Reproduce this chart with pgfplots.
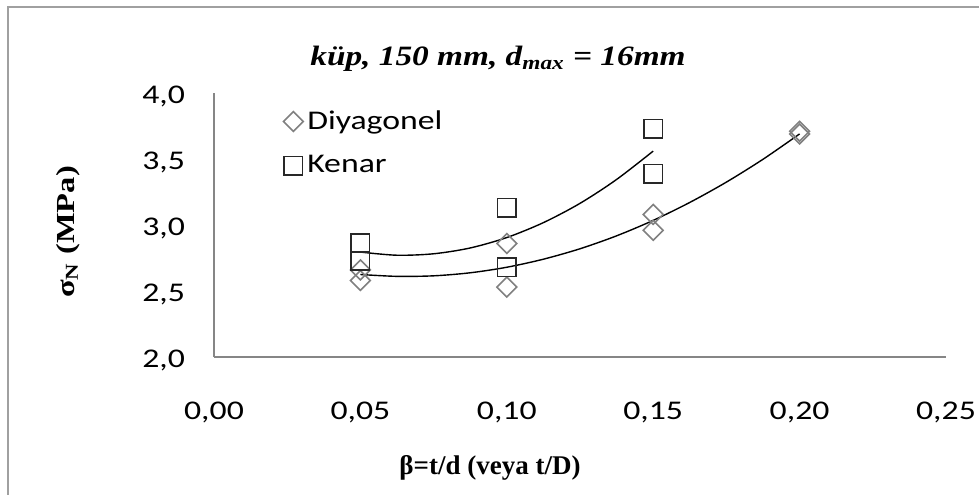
\documentclass[border=0pt]{standalone}
\usepackage{fontspec}
\setmainfont{Liberation Serif}
\newfontfamily\stretchserif{Liberation Serif}[FakeStretch=1.25]
\newfontfamily\titlefont{Liberation Serif}[FakeStretch=1.19]
\newfontfamily\tickfont{Carlito}[FakeStretch=1.25]
\usepackage{pgfplots}
\pgfplotsset{compat=1.18}
\definecolor{axgray}{RGB}{134,134,134}
\definecolor{diagray}{RGB}{128,128,128}
\definecolor{sqdark}{RGB}{40,40,40}
\definecolor{framegray}{RGB}{160,160,160}
\begin{document}
\begin{tikzpicture}
\useasboundingbox (-107pt,-68.5pt) rectangle (382.5pt,178.5pt);
\begin{axis}[
  at={(0pt,0pt)}, anchor=origin,
  scale only axis, width=366pt, height=132pt,
  xmin=0, xmax=0.25, ymin=2, ymax=4,
  axis lines*=left,
  axis line style={draw=axgray, line width=0.7pt},
  major tick length=0pt,
  xtick={0,0.05,0.1,0.15,0.2,0.25},
  xticklabels={{0,00},{0,05},{0,10},{0,15},{0,20},{0,25}},
  ytick={2,2.5,3,3.5,4},
  yticklabels={{2,0},{2,5},{3,0},{3,5},{4,0}},
  tick label style={font=\tickfont\fontsize{13.5}{16}\selectfont, text=black},
  xticklabel style={yshift=-19pt},
  yticklabel style={xshift=-11pt, yshift=-1.5pt},
  clip=false,
  legend style={draw=none, fill=none, at={(axis cs:0.0236,3.90)}, anchor=north west,
    font=\tickfont\fontsize{13.5}{16}\selectfont, row sep=7.5pt, inner sep=0pt,
    /tikz/every even column/.append style={column sep=8pt}},
  legend cell align=left,
  legend image code/.code={\draw[#1] plot coordinates {(3pt,0pt)};},
]
\addplot[only marks, mark=square, mark size=3.5pt, mark options={rotate=45, draw=diagray, line width=0.8pt}]
  coordinates {(0.05,2.58) (0.05,2.66) (0.10,2.53) (0.10,2.86) (0.15,2.96) (0.15,3.08) (0.20,3.69) (0.20,3.71)};
\addlegendentry{Diyagonel}
\addplot[only marks, mark=square, mark size=4.6pt, mark options={draw=sqdark, line width=0.8pt}]
  coordinates {(0.05,2.73) (0.05,2.86) (0.10,2.68) (0.10,3.13) (0.15,3.39) (0.15,3.73)};
\addlegendentry{Kenar}
\addplot[forget plot, smooth, black, line width=0.7pt]
  coordinates {(0.05,2.625) (0.0625,2.611) (0.075,2.615) (0.0875,2.638) (0.10,2.680) (0.1125,2.741) (0.125,2.820) (0.1375,2.918) (0.15,3.035) (0.1625,3.171) (0.175,3.325) (0.1875,3.498) (0.20,3.690)};
\addplot[forget plot, smooth, black, line width=0.7pt]
  coordinates {(0.05,2.795) (0.0625,2.771) (0.075,2.782) (0.0875,2.826) (0.10,2.905) (0.1125,3.018) (0.125,3.164) (0.1375,3.345) (0.15,3.560)};
\end{axis}
\draw[framegray, line width=1pt] (-103pt,-80pt) -- (-103pt,175pt) -- (400pt,175pt);
\node[anchor=base, font=\titlefont\fontsize{14}{16}\selectfont\bfseries\itshape] at (142pt,146pt) {küp, 150 mm, d\textsubscript{max} = 16mm};
\node[font=\fontsize{13.5}{15}\selectfont\bfseries] at (138pt,-55.5pt) {β=t/d (veya t/D)};
\node[rotate=90, font=\stretchserif\fontsize{13}{15}\selectfont\bfseries] at (-73pt,62.5pt) {σ\textsubscript{N} (MPa)};
\end{tikzpicture}
\end{document}
